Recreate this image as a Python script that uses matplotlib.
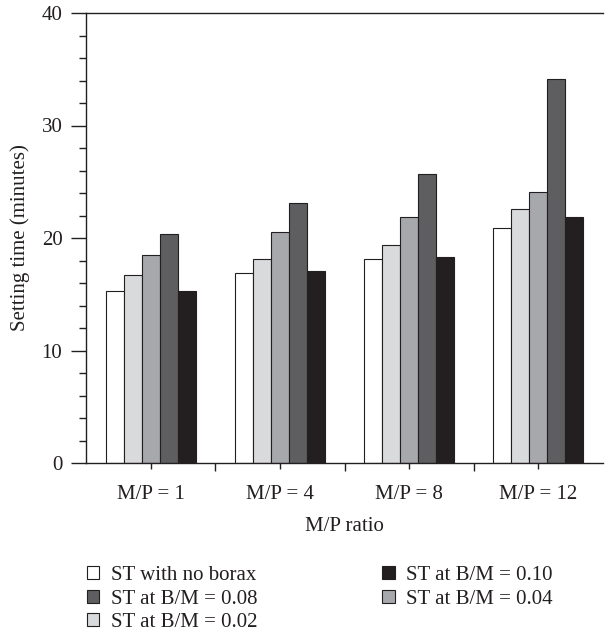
import matplotlib.pyplot as plt
import numpy as np
from matplotlib.ticker import MultipleLocator, FixedLocator

groups = ["M/P = 1", "M/P = 4", "M/P = 8", "M/P = 12"]
no_borax = [15.3, 16.9, 18.1, 20.9]
bm_002 = [16.7, 18.1, 19.4, 22.6]
bm_004 = [18.5, 20.5, 21.9, 24.1]
bm_008 = [20.4, 23.1, 25.7, 34.1]
bm_010 = [15.3, 17.1, 18.3, 21.9]

series = [
    ("ST with no borax", no_borax, "#ffffff"),
    ("ST at B/M = 0.02", bm_002, "#d9dadc"),
    ("ST at B/M = 0.04", bm_004, "#a7a8ac"),
    ("ST at B/M = 0.08", bm_008, "#5e5e60"),
    ("ST at B/M = 0.10", bm_010, "#231f20"),
]

plt.rcParams['font.family'] = ['Liberation Serif', 'DejaVu Serif']
ink = "#231f20"
fs = 15

fig = plt.figure(figsize=(6.05, 6.33), dpi=100)
ax = fig.add_axes([86 / 605, 1 - 463 / 633, 517 / 605, 450 / 633])

x = np.arange(len(groups))
w = 0.139
bars = {}
for i, (name, vals, col) in enumerate(series):
    bars[name] = ax.bar(x + (i - 2) * w, vals, w, color=col, edgecolor=ink,
                        linewidth=0.8, label=name)

ax.set_xlim(-0.5, 3.5)
ax.set_ylim(0, 40)
ax.spines['right'].set_visible(False)
for s in ['left', 'bottom', 'top']:
    ax.spines[s].set_linewidth(1.0)
    ax.spines[s].set_color(ink)

ax.set_xticks(x)
ax.set_xticklabels(groups)
ax.xaxis.set_minor_locator(FixedLocator([0.5, 1.5, 2.5]))
ax.yaxis.set_major_locator(MultipleLocator(10))
ax.yaxis.set_minor_locator(MultipleLocator(2))
ax.tick_params(axis='both', which='both', color=ink, labelcolor=ink, width=1.0)
ax.tick_params(axis='x', which='major', length=4, direction='out', labelsize=fs, pad=12)
ax.tick_params(axis='x', which='minor', length=6, direction='out')
ax.tick_params(axis='y', which='major', length=11, direction='out', labelsize=fs, pad=6)
ax.tick_params(axis='y', which='minor', length=5, direction='out')

ax.set_xlabel("M/P ratio", fontsize=fs, labelpad=9, color=ink)
ax.set_ylabel("Setting time (minutes)", fontsize=fs, labelpad=8, color=ink)

order = ["ST with no borax", "ST at B/M = 0.08", "ST at B/M = 0.02",
         "ST at B/M = 0.10", "ST at B/M = 0.04"]
fig.legend([bars[n] for n in order], order, ncol=2, frameon=False,
           loc='upper left', bbox_to_anchor=(87 / 605, 1 - 566 / 633),
           fontsize=fs, handlelength=0.6, handleheight=0.6, handletextpad=0.55,
           columnspacing=6.0, labelspacing=0.22, borderpad=0, borderaxespad=0,
           labelcolor=ink)

fig.savefig("out.png", dpi=100)
